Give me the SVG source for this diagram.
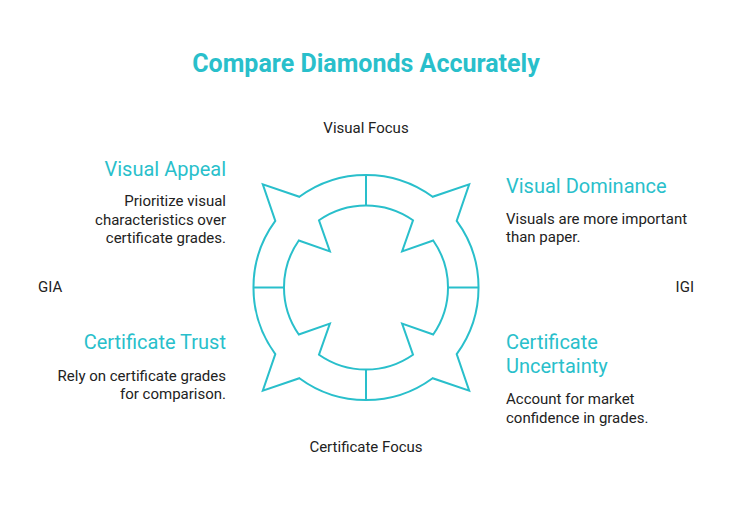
<svg xmlns="http://www.w3.org/2000/svg" width="732" height="522" viewBox="0 0 732 522">
<style>
.title{font-family:Roboto,"Liberation Sans",sans-serif;font-weight:700;font-size:25px;fill:#29bfcb}
.head{font-family:Roboto,"Liberation Sans",sans-serif;font-size:20px;fill:#29bfcb}
.body{font-family:Roboto,"Liberation Sans",sans-serif;font-size:15px;fill:#222}
.axis{font-family:Roboto,"Liberation Sans",sans-serif;font-size:15px;fill:#222}
.ring{fill:none;stroke:#29bfcb;stroke-width:2;stroke-linejoin:miter}
</style>
<rect width="732" height="522" fill="#fff"/>
<g id="title"><text class="title" x="366" y="72" text-anchor="middle">Compare Diamonds Accurately</text></g>
<g id="ring">
<path class="ring" d="M366 175 A112.5 112.5 0 0 1 432.6 196.8 L469.2 184.3 L456.7 220.9 A112.5 112.5 0 0 1 456.7 354.1 L469.2 390.7 L432.6 378.2 A112.5 112.5 0 0 1 299.4 378.2 L262.8 390.7 L275.3 354.1 A112.5 112.5 0 0 1 275.3 220.9 L262.8 184.3 L299.4 196.8 A112.5 112.5 0 0 1 366 175 Z"/>
<path class="ring" d="M366 205.5 A82 82 0 0 1 413 220.3 L402.1 251.4 L433.2 240.5 A82 82 0 0 1 433.2 334.5 L402.1 323.6 L413 354.7 A82 82 0 0 1 319 354.7 L329.9 323.6 L298.8 334.5 A82 82 0 0 1 298.8 240.5 L329.9 251.4 L319 220.3 A82 82 0 0 1 366 205.5 Z"/>
</g>
<g id="connectors">
<line class="ring" x1="366" y1="175" x2="366" y2="205.5"/>
<line class="ring" x1="478.5" y1="287.5" x2="448" y2="287.5"/>
<line class="ring" x1="366" y1="400" x2="366" y2="369.5"/>
<line class="ring" x1="253.5" y1="287.5" x2="284" y2="287.5"/>
</g>
<g id="visual-focus"><text class="axis" x="366" y="133" text-anchor="middle">Visual Focus</text></g>
<g id="certificate-focus"><text class="axis" x="366" y="452" text-anchor="middle">Certificate Focus</text></g>
<g id="gia"><text class="axis" x="38" y="292">GIA</text></g>
<g id="igi"><text class="axis" x="694" y="292" text-anchor="end">IGI</text></g>
<g id="visual-appeal">
<text class="head" x="226" y="175.5" text-anchor="end">Visual Appeal</text>
<text class="body" x="226" y="206" text-anchor="end">Prioritize visual</text>
<text class="body" x="226" y="224.5" text-anchor="end">characteristics over</text>
<text class="body" x="226" y="243" text-anchor="end">certificate grades.</text>
</g>
<g id="certificate-trust">
<text class="head" x="226" y="349" text-anchor="end">Certificate Trust</text>
<text class="body" x="226" y="381" text-anchor="end">Rely on certificate grades</text>
<text class="body" x="226" y="399" text-anchor="end">for comparison.</text>
</g>
<g id="visual-dominance">
<text class="head" x="506" y="193">Visual Dominance</text>
<text class="body" x="506" y="224">Visuals are more important</text>
<text class="body" x="506" y="242">than paper.</text>
</g>
<g id="certificate-uncertainty">
<text class="head" x="506" y="349">Certificate</text>
<text class="head" x="506" y="373">Uncertainty</text>
<text class="body" x="506" y="404">Account for market</text>
<text class="body" x="506" y="422.5">confidence in grades.</text>
</g>
</svg>
